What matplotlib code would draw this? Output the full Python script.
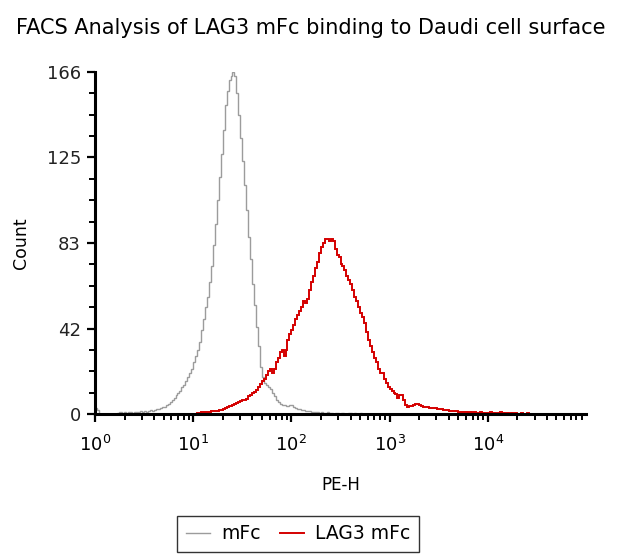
import numpy as np
import matplotlib
matplotlib.use("Agg")
import matplotlib.pyplot as plt
from matplotlib.ticker import FixedLocator, LogLocator, NullFormatter

# channel grid (log10 of PE-H), one bin every 0.02 decade from 10^0 to 10^5
LOG_START = 0.0
LOG_STEP = 0.02
N_BINS = 250

# mFc control histogram, bins starting at channel 0
mfc_start = 0
mfc_counts = [3, 2, 0, 0, 0, 0, 0, 0, 0, 0,
              0, 0.5, 1, 1, 0.5, 1,
              0.5, 1, 1, 0.5, 1, 1, 1, 1.5, 1, 1.5,
              1, 1.5, 2, 1.5, 2, 2.5, 2.5, 3, 3.5, 3.5,
              4.5, 5, 6, 7, 8, 9, 10, 11, 13, 14,
              16, 18, 20, 22, 25, 28, 31, 35, 41, 46,
              52, 57, 64, 72, 82, 92, 104, 115, 126, 138,
              150, 157, 162, 164, 166, 164, 156, 145, 134, 123,
              111, 99, 86, 75, 63, 53, 42, 33, 23, 18,
              15, 14, 13, 12, 10, 8.5, 7, 6, 5, 4.5,
              4.5, 4, 4, 4.5, 4.5, 3.5, 3, 2.5, 2.5, 2,
              2, 1.5, 1.5, 1.5, 1, 1, 1, 1, 0.5, 1,
              0.5, 0.5, 1, 0.5, 0.5, 0, 0.5, 0.5, 0, 0.5,
              0.5, 0, 0, 0.5, 0.5, 0, 0.5, 0, 0, 0.5]

# LAG3 mFc histogram, bins starting at channel 52
lag3_start = 52
lag3_counts = [0.5, 0.5, 1, 1, 1, 1, 1, 1.5, 1.5, 1.5,
               1.5, 2, 2, 2.5, 3, 3.5, 4, 4, 4.5, 5,
               5.5, 6, 6.5, 7, 7, 7.5, 8.5, 9, 10, 10.5,
               11.5, 13, 14.5, 16, 17, 19, 21, 22, 20, 22,
               25, 27, 30, 31, 28, 31, 36, 39, 41, 43,
               46, 48, 50, 52, 55, 54, 56, 60, 64, 67,
               71, 74, 78, 81, 83, 85, 85, 84, 85, 84,
               80, 77, 76, 73, 72, 70, 67, 65, 63, 60,
               57, 55, 52, 49, 47, 44, 40, 36, 33, 30,
               27, 25, 22, 20, 20, 17, 15, 13, 12, 11,
               10, 9.5, 8, 9, 9, 7, 4.5, 3.5, 4, 4,
               4.5, 5, 5, 4.5, 4, 3.5, 3.5, 3.5, 3, 3,
               3, 3, 2.5, 2.5, 2.5, 2, 2, 2, 1.5, 1.5,
               1.5, 1.5, 1.5, 1, 1, 1, 1, 1, 0.5, 1,
               0.5, 1, 0.5, 0.5, 1, 0.5, 0.5, 0.5, 0.5, 1,
               0.5, 0.5, 0, 0.5, 1, 0.5, 0, 0.5, 0.5, 0,
               0.5, 0, 0.5, 0, 0, 0.5, 0, 0, 0.5, 0]

y_ticks = [0, 41.5, 83, 124.5, 166]
y_tick_labels = ["0", "42", "83", "125", "166"]
x_ticks = [1, 10, 100, 1000, 10000]
x_tick_labels = ["$10^{0}$", "$10^{1}$", "$10^{2}$", "$10^{3}$", "$10^{4}$"]
series_names = ["mFc", "LAG3 mFc"]


def fill_bins(start, values):
    counts = np.zeros(N_BINS)
    counts[start:start + len(values)] = values
    return counts


def main():
    edges = 10 ** (LOG_START + LOG_STEP * np.arange(N_BINS + 1))
    mfc = fill_bins(mfc_start, mfc_counts)
    lag3 = fill_bins(lag3_start, lag3_counts)

    fig = plt.figure(figsize=(6.21, 5.56), dpi=100)
    ax = fig.add_axes([95 / 621, 1 - 414 / 556, 491 / 621, 342 / 556])

    ax.stairs(mfc, edges, color="#9c9c9c", linewidth=1.0, label=series_names[0])
    ax.stairs(lag3, edges, color="#d40000", linewidth=1.4, label=series_names[1])

    ax.set_xscale("log")
    ax.set_xlim(1, 1e5)
    ax.set_ylim(0, 166)

    # y ticks
    ax.yaxis.set_major_locator(FixedLocator(y_ticks))
    ax.set_yticklabels(y_tick_labels)
    ax.yaxis.set_minor_locator(FixedLocator(np.arange(0, 166.1, 166 / 16)))

    # x ticks (log), no label at 10^5
    ax.xaxis.set_major_locator(FixedLocator(x_ticks))
    ax.set_xticklabels(x_tick_labels)
    ax.xaxis.set_minor_locator(LogLocator(base=10, subs=np.arange(2, 10), numticks=50))
    ax.xaxis.set_minor_formatter(NullFormatter())

    for side in ["top", "right"]:
        ax.spines[side].set_visible(False)
    for side in ["left", "bottom"]:
        ax.spines[side].set_linewidth(2.2)
        ax.spines[side].set_color("black")

    ax.tick_params(axis="both", which="major", length=6, width=1.6, direction="out",
                   labelsize=13, colors="black")
    ax.tick_params(axis="both", which="minor", length=4, width=1.4, direction="out")
    ax.tick_params(axis="x", which="major", pad=9)
    ax.tick_params(axis="y", which="major", pad=4)
    for lab in ax.get_yticklabels():
        lab.set_color("#222222")

    ax.set_xlabel("PE-H", fontsize=12, labelpad=15)
    ax.set_ylabel("Count", fontsize=12.5, labelpad=12)

    fig.text(0.5, 1 - 28 / 556, "FACS Analysis of LAG3 mFc binding to Daudi cell surface",
             ha="center", va="center", fontsize=15)

    leg = fig.legend(loc="upper center", bbox_to_anchor=(298 / 621, 1 - 516 / 556), ncol=2,
                     frameon=True, fancybox=False, fontsize=13.5, handlelength=1.3,
                     handletextpad=0.6, columnspacing=1.0, borderpad=0.45,
                     borderaxespad=0)
    leg.get_frame().set_edgecolor("black")
    leg.get_frame().set_linewidth(1.0)

    fig.savefig("out.png", dpi=100)


if __name__ == "__main__":
    main()
